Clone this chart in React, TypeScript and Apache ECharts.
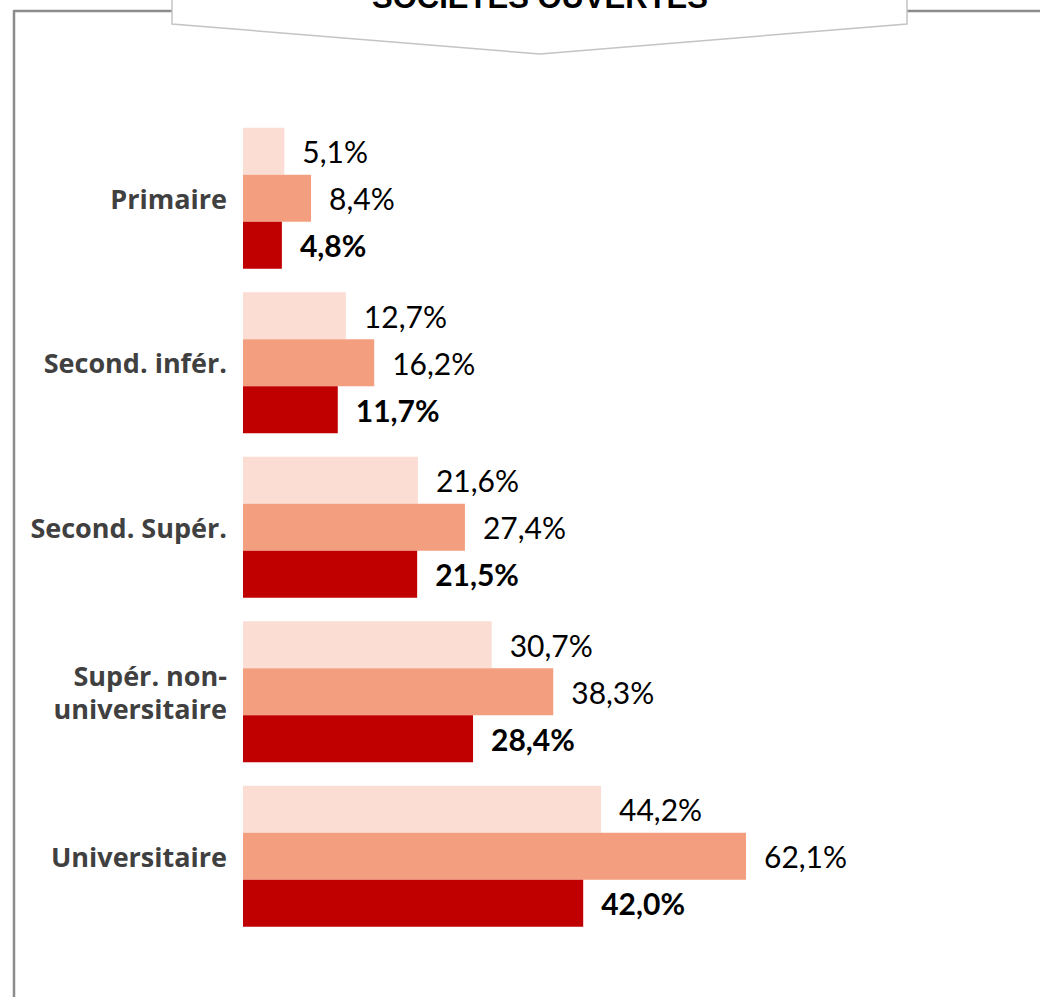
import React, { useEffect, useRef } from "react";
import * as echarts from "echarts";

const categories = [
  "Primaire",
  "Second. infér.",
  "Second. Supér.",
  "Supér. non-\nuniversitaire",
  "Universitaire",
];
const series1 = [5.1, 12.7, 21.6, 30.7, 44.2];
const series2 = [8.4, 16.2, 27.4, 38.3, 62.1];
const series3 = [4.8, 11.7, 21.5, 28.4, 42.0];
const seriesNames = ["Série 1", "Série 2", "Série 3"];
const title = "SOCIÉTÉS OUVERTES";

const fmt = (v: number) => v.toFixed(1).replace(".", ",") + "%";

export default function App() {
  const ref = useRef<HTMLDivElement>(null);
  useEffect(() => {
    if (!ref.current) return;
    const chart = echarts.init(ref.current, null, { renderer: "svg" });
    const labelBase = {
      show: true,
      position: "right" as const,
      distance: 18,
      color: "#000",
      fontFamily: "Lato, 'Open Sans', sans-serif",
      fontSize: 30,
      formatter: (p: any) => fmt(p.value),
    };
    chart.setOption({
      animation: false,
      backgroundColor: "#fff",
      grid: { left: 243, width: 567, top: 116, height: 822.5 },
      xAxis: { type: "value", min: 0, max: 70, show: false },
      yAxis: {
        type: "category",
        inverse: true,
        data: categories,
        axisLine: { show: false },
        axisTick: { show: false },
        axisLabel: {
          margin: 16,
          color: "#404040",
          fontWeight: "bold",
          fontSize: 27,
          lineHeight: 33,
          align: "right",
          fontFamily: "'Open Sans', sans-serif",
        },
      },
      series: [
        {
          name: seriesNames[0],
          type: "bar",
          data: series1,
          barGap: "0%",
          barCategoryGap: "14.3%",
          itemStyle: { color: "#FBDDD4" },
          label: { ...labelBase },
        },
        {
          name: seriesNames[1],
          type: "bar",
          data: series2,
          barGap: "0%",
          barCategoryGap: "14.3%",
          itemStyle: { color: "#F49E80" },
          label: { ...labelBase },
        },
        {
          name: seriesNames[2],
          type: "bar",
          data: series3,
          barGap: "0%",
          barCategoryGap: "14.3%",
          itemStyle: { color: "#C00000" },
          label: { ...labelBase, fontWeight: "bold" },
        },
      ],
      graphic: [
        {
          type: "line",
          shape: { x1: 14, y1: 11, x2: 1040, y2: 11 },
          style: { stroke: "#8c8c8c", lineWidth: 2.5 },
          z: 1,
        },
        {
          type: "line",
          shape: { x1: 14, y1: 10, x2: 14, y2: 997 },
          style: { stroke: "#8c8c8c", lineWidth: 2.5 },
          z: 1,
        },
        {
          type: "polygon",
          shape: {
            points: [
              [172, -5],
              [907, -5],
              [907, 24],
              [540, 54],
              [172, 24],
            ],
          },
          style: { fill: "#fff", stroke: "#c4c4c4", lineWidth: 1.5 },
          z: 2,
        },
        {
          type: "text",
          x: 540,
          y: -3,
          style: {
            text: title,
            fill: "#000",
            fontWeight: "bold",
            fontSize: 31,
            fontFamily: "'Liberation Sans', Arial, sans-serif",
            align: "center",
            verticalAlign: "middle",
          },
          z: 3,
        },
      ],
    });
    return () => chart.dispose();
  }, []);
  return (
    <div
      ref={ref}
      style={{ position: "fixed", left: 0, top: 0, width: 1040, height: 997 }}
    />
  );
}
